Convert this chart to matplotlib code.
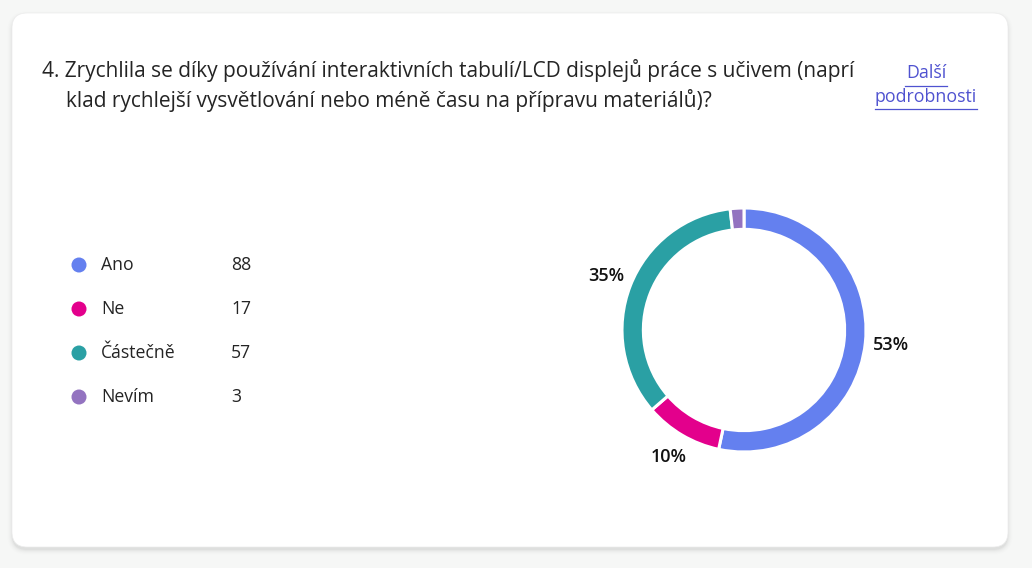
import matplotlib
matplotlib.use("Agg")
import matplotlib.pyplot as plt
from matplotlib.patches import FancyBboxPatch, Circle

plt.rcParams['font.family'] = ['Open Sans', 'DejaVu Sans']

# Data
title_lines = ["4. Zrychlila se díky používání interaktivních tabulí/LCD displejů práce s učivem (naprí",
               "klad rychlejší vysvětlování nebo méně času na přípravu materiálů)?"]
categories = ["Ano", "Ne", "Částečně", "Nevím"]
counts = [88, 17, 57, 3]
colors = ["#6480EF", "#E3008C", "#2AA0A4", "#9373C0"]
link_text = ["Další", "podrobnosti"]

W, H = 1032, 568
fig = plt.figure(figsize=(W / 100, H / 100), dpi=100)
fig.patch.set_facecolor("#f6f7f6")

# full-figure axes in pixel coordinates (y down)
bg = fig.add_axes([0, 0, 1, 1])
bg.set_xlim(0, W)
bg.set_ylim(H, 0)
bg.axis("off")

# card shadow + card
for i, a in enumerate([0.03, 0.022, 0.016, 0.011, 0.007, 0.004]):
    s = FancyBboxPatch((12 - i, 13 - i + 3), 996 + 2 * i, 534 + 2 * i,
                       boxstyle="round,pad=0,rounding_size=%d" % (15 + i),
                       fc="#000000", ec="none", alpha=a)
    bg.add_patch(s)
card = FancyBboxPatch((12, 13), 996, 534, boxstyle="round,pad=0,rounding_size=15",
                      fc="white", ec="#ececec", lw=0.5)
bg.add_patch(card)

# question
text_c = "#242424"
bg.text(42, 70, title_lines[0], fontsize=15, color=text_c, va="center", ha="left")
bg.text(66, 100, title_lines[1], fontsize=15, color=text_c, va="center", ha="left")

# link
link_c = "#4f52d0"
bg.text(926, 73, link_text[0], fontsize=12.8, color=link_c, ha="center", va="center")
bg.text(926, 97, link_text[1], fontsize=12.8, color=link_c, ha="center", va="center")
bg.plot([905, 947], [86, 86], color=link_c, lw=0.9)
bg.plot([875, 977], [109, 109], color=link_c, lw=0.9)

# legend
for i, (cat, n, c) in enumerate(zip(categories, counts, colors)):
    y = 265 + 44 * i
    bg.add_patch(Circle((79, y), 7.5, fc=c, ec="none"))
    bg.text(101, y, cat, fontsize=12.7, color=text_c, va="center", ha="left")
    bg.text(231, y, str(n), fontsize=12.7, color=text_c, va="center", ha="left")

# donut
cx, cy, r = 744, 330, 122
ax = fig.add_axes([(cx - r) / W, (H - cy - r) / H, 2 * r / W, 2 * r / H])
wedges, texts, autotexts = ax.pie(
    counts, colors=colors, startangle=90, counterclock=False,
    wedgeprops=dict(width=0.175, edgecolor="white", linewidth=2.2),
    autopct=lambda p: f"{p:.0f}%" if p > 5 else "", pctdistance=1.21,
    textprops=dict(fontsize=13, fontweight="semibold", color="#111111"))
ax.set_xlim(-1, 1)
ax.set_ylim(-1, 1)
ax.set_aspect("equal")

fig.savefig("out.png", dpi=100, facecolor=fig.get_facecolor())
